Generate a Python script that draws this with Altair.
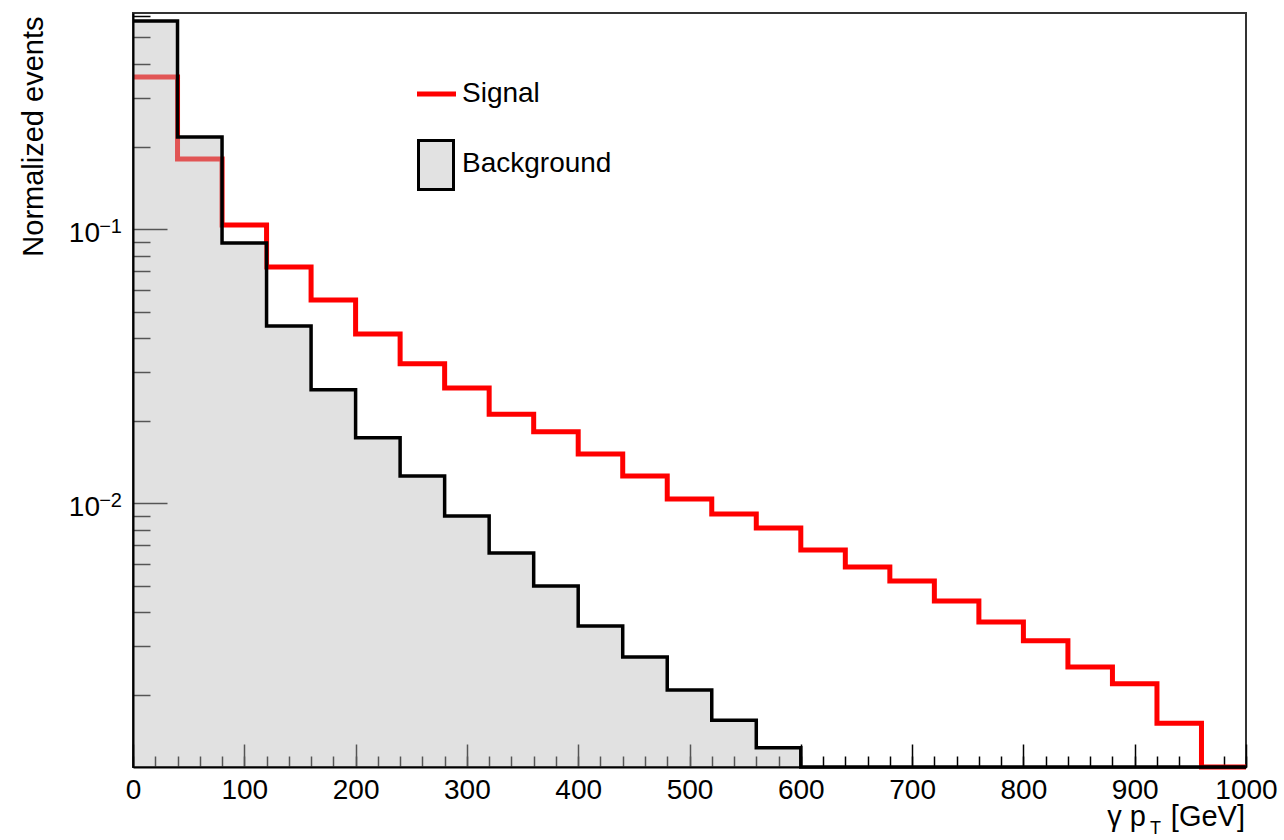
import altair as alt
import pandas as pd

# ---------------- data ----------------
bin_edges = [0, 40, 80, 120, 160, 200, 240, 280, 320, 360, 400, 440, 480,
             520, 560, 600, 640, 680, 720, 760, 800, 840, 880, 920, 960, 1000]

signal = [0.359, 0.180, 0.1034, 0.0727, 0.0551, 0.0414, 0.0322, 0.0263,
          0.0211, 0.0182, 0.0151, 0.01255, 0.01034, 0.00912, 0.0081,
          0.00674, 0.00584, 0.00519, 0.00439, 0.00368, 0.00314, 0.00252,
          0.00219, 0.00157, 0.0]

background = [0.574, 0.2167, 0.0889, 0.0443, 0.0259, 0.0173, 0.01255,
              0.00897, 0.00657, 0.00498, 0.00356, 0.00274, 0.00208, 0.00161,
              0.00128, 0.0, 0.0, 0.0, 0.0, 0.0, 0.0, 0.0, 0.0, 0.0, 0.0]

series_names = ["Signal", "Background"]

x_label_values = [0, 100, 200, 300, 400, 500, 600, 700, 800, 900, 1000]
x_minor_values = [0, 20, 40, 60, 80, 100, 120, 140, 160, 180, 200, 220, 240,
                  260, 280, 300, 320, 340, 360, 380, 400, 420, 440, 460, 480,
                  500, 520, 540, 560, 580, 600, 620, 640, 660, 680, 700, 720,
                  740, 760, 780, 800, 820, 840, 860, 880, 900, 920, 940, 960,
                  980, 1000]
y_major_values = [0.01, 0.1]
y_label_exponents = ["\u22122", "\u22121"]
y_minor_values = [0.002, 0.003, 0.004, 0.005, 0.006, 0.007, 0.008, 0.009,
                  0.02, 0.03, 0.04, 0.05, 0.06, 0.07, 0.08, 0.09,
                  0.2, 0.3, 0.4, 0.5, 0.6]
y_domain = [0.001088, 0.6143]
x_domain = [0, 1000]

FONT = "Liberation Sans"
RED = "#ff0000"
PW, PH = 1113, 754


def step_frame(values, name):
    floor = y_domain[0]
    ys = [v if v > 0 else floor for v in values]
    ys = ys + [ys[-1]]
    return pd.DataFrame({"x": bin_edges, "y": ys, "floor": floor, "series": name})


sig_df = step_frame(signal, series_names[0])
bkg_df = step_frame(background, series_names[1])

xscale = alt.Scale(domain=x_domain, nice=False, zero=False)
yscale = alt.Scale(type="log", domain=y_domain, nice=False, clamp=True)

common_axis = dict(grid=False, title=None, tickColor="black", tickWidth=1.5)

x_main = alt.Axis(orient="bottom", values=x_label_values, ticks=False, tickSize=0,
                  format="d", labelFlush=False, labelOverlap=False,
                  labelFont=FONT, labelFontSize=28, labelColor="black",
                  labelPadding=9, domainColor="black", domainWidth=2,
                  grid=False, title=None, zindex=1)
x_major = alt.Axis(orient="bottom", values=x_label_values, offset=-23, tickSize=23,
                   labels=False, domain=False, **common_axis)
x_minor = alt.Axis(orient="bottom", values=x_minor_values, offset=-11, tickSize=11,
                   labels=False, domain=False, **common_axis)

y_main = alt.Axis(orient="left", labels=False, ticks=False, domain=True,
                  domainColor="black", domainWidth=2, grid=False, zindex=1,
                  title="Normalized events", titleFont=FONT, titleFontSize=29,
                  titleFontWeight="normal", titleColor="black", titleAngle=270,
                  titleAlign="right", titleBaseline="alphabetic",
                  titleX=-91, titleY=3)
y_major = alt.Axis(orient="left", values=y_major_values, offset=-34, tickSize=34,
                   labels=False, domain=False, **common_axis)
y_minor = alt.Axis(orient="left", values=y_minor_values, offset=-17, tickSize=17,
                   labels=False, domain=False, **common_axis)

# signal line (drawn first, below the background fill)
sig_line = alt.Chart(sig_df).mark_line(
    interpolate="step-after", color=RED, strokeWidth=5, clip=False
).encode(
    x=alt.X("x:Q", scale=xscale, axis=x_major),
    y=alt.Y("y:Q", scale=yscale, axis=y_minor),
)

# background fill
bkg_area = alt.Chart(bkg_df).mark_area(
    interpolate="step-after", color="#bcbcbc", opacity=0.45, clip=False
).encode(
    x=alt.X("x:Q", scale=xscale, axis=x_minor),
    y=alt.Y("y:Q", scale=yscale, axis=y_major),
    y2="floor:Q",
)

# background outline
bkg_line = alt.Chart(bkg_df).mark_line(
    interpolate="step-after", color="black", strokeWidth=3.5, clip=False
).encode(
    x=alt.X("x:Q", scale=xscale, axis=x_main),
    y=alt.Y("y:Q", scale=yscale, axis=y_main),
)

# y tick labels: 10^-n
ylab_df = pd.DataFrame({"v": y_major_values, "exp": y_label_exponents, "base": "10"})
ylab_base = alt.Chart(ylab_df).mark_text(
    align="right", baseline="alphabetic", font=FONT, fontSize=28, color="black", dy=13
).encode(x=alt.value(-33), y=alt.Y("v:Q", scale=yscale, axis=None), text="base:N")
ylab_exp = alt.Chart(ylab_df).mark_text(
    align="right", baseline="alphabetic", font=FONT, fontSize=20, color="black", dy=4
).encode(x=alt.value(-11), y=alt.Y("v:Q", scale=yscale, axis=None), text="exp:N")

# x-axis title with subscript
one = alt.Data(values=[{}])
xt1 = alt.Chart(one).mark_text(text="\u03b3 p", align="right", baseline="alphabetic",
                               font=FONT, fontSize=29, color="black").encode(
    x=alt.value(1013), y=alt.value(813))
xt2 = alt.Chart(one).mark_text(text="T", align="left", baseline="alphabetic",
                               font=FONT, fontSize=18, color="black").encode(
    x=alt.value(1017), y=alt.value(821))
xt3 = alt.Chart(one).mark_text(text="[GeV]", align="right", baseline="alphabetic",
                               font=FONT, fontSize=29, color="black").encode(
    x=alt.value(1112), y=alt.value(813))

# legend
leg_line = alt.Chart(one).mark_rule(color=RED, strokeWidth=5).encode(
    x=alt.value(284), x2=alt.value(323), y=alt.value(81))
leg_box = alt.Chart(one).mark_rect(fill="#e2e2e2", stroke="black", strokeWidth=3).encode(
    x=alt.value(285.5), x2=alt.value(320.5), y=alt.value(127.5), y2=alt.value(176.5))
leg_df = pd.DataFrame({"name": series_names, "ypos": [89, 159]})
leg_text = alt.Chart(leg_df).mark_text(
    align="left", baseline="alphabetic", font=FONT, fontSize=28, color="black"
).encode(x=alt.value(329), y=alt.Y("ypos:Q", scale=None, axis=None), text="name:N")

chart = alt.layer(
    sig_line, bkg_area, bkg_line, ylab_base, ylab_exp, xt1, xt2, xt3,
    leg_line, leg_box, leg_text
).resolve_axis(
    x="independent", y="independent"
).properties(
    width=PW, height=PH, autosize="none",
    padding={"left": 133, "top": 13, "right": 38, "bottom": 73},
    background="white",
).configure_view(stroke="#333333", strokeWidth=2)

chart.save("out.html", embed_options={"renderer": "svg", "actions": False})
